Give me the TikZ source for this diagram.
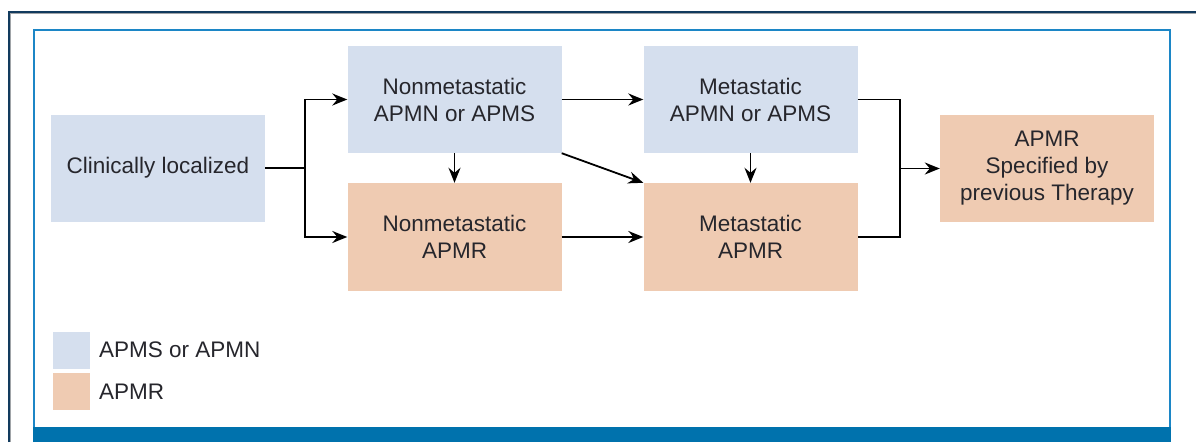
\documentclass[tikz,border=0pt]{standalone}
\usepackage{fontspec}
\setmainfont{Liberation Sans}
\usetikzlibrary{arrows.meta}
\definecolor{boxblue}{HTML}{D5DFEE}
\definecolor{boxorange}{HTML}{EFCBB2}
\definecolor{framenavy}{HTML}{123B5E}
\definecolor{framegray}{HTML}{A0A4A8}
\definecolor{frameblue}{HTML}{1C86C6}
\definecolor{barblue}{HTML}{0072AD}
\definecolor{txt}{HTML}{26262C}
\tikzset{
  stagebox/.style={draw=none, minimum width=214pt, minimum height=107pt, inner sep=0pt,
    align=center, text=txt, font=\fontsize{22.5}{27}\selectfont},
  bluebox/.style={stagebox, fill=boxblue},
  orangebox/.style={stagebox, fill=boxorange},
  legbox/.style={draw=none, minimum width=37pt, minimum height=37pt, inner sep=0pt},
  legtext/.style={anchor=west, inner sep=0pt, text=txt, font=\fontsize{22.5}{27}\selectfont},
  conn/.style={line width=1.8pt, black},
  arr/.style={conn, -{Stealth[length=15pt,width=12pt,inset=5pt]}}
}
\begin{document}
\begin{tikzpicture}[x=1pt,y=-1pt]
\useasboundingbox (0,0) rectangle (1196,442);
\fill[white] (0,0) rectangle (1196,442);
% outer frame
\draw[framegray, line width=1pt] (10.5,442) -- (10.5,13.5) -- (1196,13.5);
\draw[framenavy, line width=2pt] (9,442) -- (9,12) -- (1196,12);
% inner frame
\draw[frameblue, line width=2pt] (34,442) -- (34,30) -- (1170,30) -- (1170,442);
\fill[barblue] (33,427) rectangle (1171,442);

% boxes
\node[bluebox] (CL) at (158,168) {Clinically localized};
\node[bluebox] (NA) at (454.5,99.5) {Nonmetastatic\\APMN or APMS};
\node[orangebox, minimum height=108pt] (NR) at (454.5,237) {Nonmetastatic\\APMR};
\node[bluebox] (MA) at (750.5,99.5) {Metastatic\\APMN or APMS};
\node[orangebox, minimum height=108pt] (MR) at (750.5,237) {Metastatic\\APMR};
\node[orangebox] (SP) at (1047,168.5) {APMR\\Specified by\\previous Therapy};

% connectors
\coordinate (j1) at (305,168);
\coordinate (j2) at (900,168.5);
\draw[conn] (CL.east) -- (j1);
\draw[arr] (j1) |- (NA.west);
\draw[arr] (j1) |- (NR.west);
\draw[arr] (NA.south) -- (NR.north);
\draw[arr] (NA.east) -- (MA.west);
\draw[arr] (NA.south east) -- (MR.north west);
\draw[arr] (NR.east) -- (MR.west);
\draw[arr] (MA.south) -- (MR.north);
\draw[conn] (MA.east) -| (j2) |- (MR.east);
\draw[arr] (j2) -- (SP.west);

% legend
\node[legbox, fill=boxblue] (L1) at (71.5,350.5) {};
\node[legbox, fill=boxorange] (L2) at (71.5,391.5) {};
\node[legtext] (T1) at (99,350) {APMS or APMN};
\node[legtext] (T2) at (99,392) {APMR};
\end{tikzpicture}
\end{document}
